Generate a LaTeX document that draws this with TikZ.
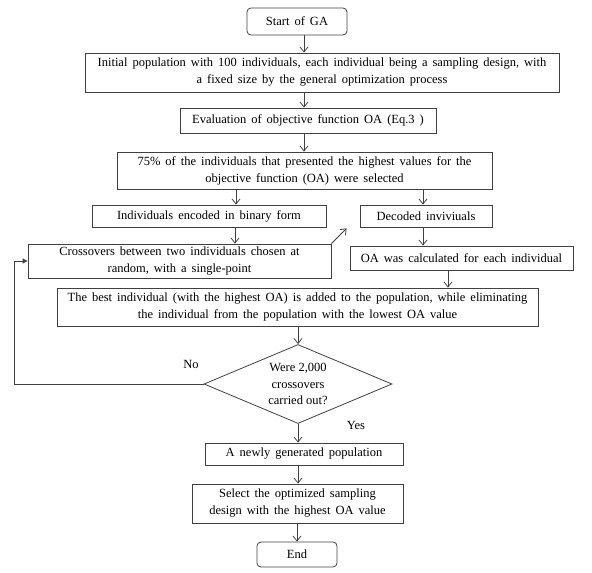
\documentclass[tikz,border=0pt]{standalone}
\usepackage{fontspec}
\setmainfont{Liberation Serif}
\usetikzlibrary{arrows,arrows.meta,shapes.geometric,calc}
\newcommand{\boxfont}{\fontsize{12.5}{17}\selectfont\spaceskip=0.4em\relax}
\newcommand{\testfont}{\fontsize{12.5}{16.5}\selectfont\relax}

\begin{document}
\begin{tikzpicture}[->,>={Straight Barb[length=5pt,width=8pt]},x=1pt,y=-1pt,
		line width=0.8pt,draw=black!75,font=\boxfont]
		\tikzstyle{box}=[rectangle,draw=black!75,text=black,align=center,inner sep=0pt]
		\tikzstyle{term}=[box,rounded corners=4pt]
		\tikzstyle{test}=[diamond,aspect=2.35,draw=black!75,text=black,align=center,
			inner sep=0pt,font=\testfont]

		\useasboundingbox (0,0) rectangle (592,573);

		\node[term, minimum width=100pt, minimum height=27pt] (1) at (297,21.5) {Start of GA};
		\node[box, minimum width=474pt, minimum height=39pt]  (2) at (322,72.5)
			{Initial population with 100 individuals, each individual being a sampling design, with\\
			a fixed size by the general optimization process};
		\node[box, minimum width=256pt, minimum height=25pt]  (3) at (308,120.5)
			{Evaluation of objective function OA (Eq.3 )};
		\node[box, minimum width=375pt, minimum height=37pt]  (4) at (304.5,170.5)
			{75\% of the individuals that presented the highest values for the\\
			objective function (OA) were selected};
		\node[box, minimum width=234pt, minimum height=22pt]  (5) at (209,216)
			{Individuals encoded in binary form};
		\node[box, minimum width=132pt, minimum height=22pt]  (6) at (426,216)
			{Decoded inviviuals};
		\node[box, minimum width=303pt, minimum height=34pt]  (7) at (179.5,261)
			{Crossovers between two individuals chosen at\\ random, with a single-point};
		\node[box, minimum width=223pt, minimum height=24pt]  (8) at (461.5,258)
			{OA was calculated for each individual};
		\node[box, minimum width=481pt, minimum height=38pt]  (9) at (297.5,307)
			{The best individual (with the highest OA) is added to the population, while eliminating\\
			the individual from the population with the lowest OA value};
		\node[test, minimum width=188pt, minimum height=79pt] (10) at (298,384)
			{Were 2,000\\ crossovers\\ carried out?};
		\node[box, minimum width=198pt, minimum height=22pt]  (11) at (304,454)
			{A newly generated population};
		\node[box, minimum width=211pt, minimum height=39pt]  (12) at (297.5,503.5)
			{Select the optimized sampling\\ design with the highest OA value};
		\node[term, minimum width=80pt, minimum height=25pt]  (13) at (297,554.5) {End};

		\node (no)  at (191,364) {No};
		\node (yes) at (356,425) {Yes};

		\path	(304,0 |- 1.south)	edge (304,0 |- 2.north)
				(304,0 |- 2.south)	edge (304,0 |- 3.north)
				(304,0 |- 3.south)	edge (304,0 |- 4.north)
				(236,0 |- 4.south)	edge (236,0 |- 5.north)
				(423,0 |- 4.south)	edge (423,0 |- 6.north)
				(235,0 |- 5.south)	edge (235,0 |- 7.north)
				(7.north east)		edge ($(6.south west)+(-13,1)$)
				(423,0 |- 6.south)	edge (423,0 |- 8.north)
				(448,0 |- 8.south)	edge (448,0 |- 9.north)
				(9.south -| 10.north)	edge (10.north)
				(10.south)			edge (10.south |- 11.north)
				(298,0 |- 11.south)	edge (298,0 |- 12.north)
				(12.south -| 13.north)	edge (13.north);

		\draw[-{Triangle[length=5pt,width=5pt]}] (10.west) -| ([xshift=-13pt]7.west) -- (7.west);
		\end{tikzpicture}
\end{document}
